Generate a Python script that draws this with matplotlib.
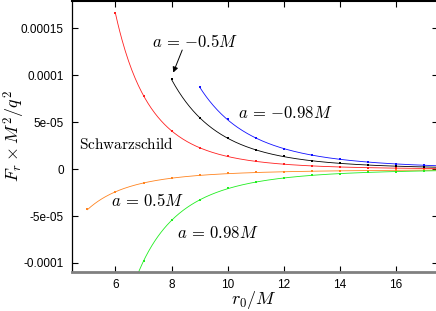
import matplotlib
matplotlib.use("Agg")
import matplotlib.pyplot as plt
import numpy as np

plt.rcParams['mathtext.fontset'] = 'cm'
plt.rcParams['font.family'] = ['Liberation Sans', 'DejaVu Sans']

# values
r_schw = [6, 7, 8, 9, 10, 11, 12, 13, 14, 15, 16, 17]
F_schw = [1.67e-4, 7.8e-5, 4.05e-5, 2.25e-5, 1.38e-5, 8.5e-6, 5.4e-6,
          3.4e-6, 2.3e-6, 1.6e-6, 1.1e-6, 8e-7]
r_m05 = [8, 9, 10, 11, 12, 13, 14, 15, 16, 17]
F_m05 = [9.6e-5, 5.45e-5, 3.3e-5, 2.05e-5, 1.38e-5, 8.8e-6, 6.2e-6,
         4.4e-6, 3.2e-6, 2.4e-6]
r_m098 = [9, 10, 11, 12, 13, 14, 15, 16, 17]
F_m098 = [8.75e-5, 5.3e-5, 3.3e-5, 2.2e-5, 1.5e-5, 1.06e-5, 7.6e-6,
          5.5e-6, 4.2e-6]
r_p05 = [5, 6, 7, 8, 9, 10, 11, 12, 13, 14, 15, 16, 17]
F_p05 = [-4.25e-5, -2.45e-5, -1.5e-5, -9.8e-6, -6.5e-6, -4.5e-6, -3.5e-6,
         -2.8e-6, -2.2e-6, -1.8e-6, -1.5e-6, -1.2e-6, -1.0e-6]
r_p098 = [7, 8, 9, 10, 11, 12, 13, 14, 15, 16, 17]
F_p098 = [-9.8e-5, -5.45e-5, -3.3e-5, -2.05e-5, -1.38e-5, -9.5e-6,
          -6.6e-6, -4.7e-6, -3.4e-6, -2.5e-6, -1.9e-6]

series = [
    (r_schw, F_schw, '#ff2020', 6.0),
    (r_m05, F_m05, 'black', 8.0),
    (r_m098, F_m098, '#1010ff', 9.0),
    (r_p05, F_p05, '#ff8420', 5.0),
    (r_p098, F_p098, '#20ee20', 6.75),
]

fig = plt.figure(figsize=(4.36, 3.11), dpi=100)
ax = fig.add_axes([72 / 436, 1 - 272 / 311, 366 / 436, 271.5 / 311])

for r, F, c, x0 in series:
    r = np.array(r, float)
    F = np.array(F, float)
    sgn = np.sign(F[0])
    # smooth fit line in log-log space
    p = np.polyfit(np.log(r), np.log(np.abs(F)), 3)
    xs = np.linspace(x0, 17.6, 300)
    ax.plot(xs, sgn * np.exp(np.polyval(p, np.log(xs))), color=c, lw=0.6)
    ax.plot(r, F, 's', color=c, ms=1.8, mew=0)

ax.set_xlim(4.45, 17.5)
ax.set_ylim(-1.096e-4, 1.798e-4)
ax.set_xticks([6, 8, 10, 12, 14, 16])
ax.set_yticks([-1e-4, -5e-5, 0, 5e-5, 1e-4, 1.5e-4])
ax.set_yticklabels(['-0.0001', '-5e-05', '0', '5e-05', '0.0001', '0.00015'])
ax.tick_params(direction='in', top=True, right=True, length=4, width=0.8,
               labelsize=8.5)
ax.tick_params(axis='y', pad=6)
ax.tick_params(axis='x', pad=5)
ax.spines['bottom'].set_color('#808080')
ax.spines['bottom'].set_linewidth(2)
ax.spines['right'].set_visible(False)
ax.spines['left'].set_linewidth(0.9)
ax.spines['top'].set_linewidth(1.5)

ax.set_xlabel(r'$r_0/M$', fontsize=13, va='center')
ax.xaxis.set_label_coords((254 - 72) / 366, -28 / 271.5)
ax.set_ylabel(r'$F_r\times M^2/q^2$', fontsize=13, va='center')
ax.yaxis.set_label_coords(-58 / 366, 0.5)

ms = dict(fontsize=12, ha='center', va='center')
ax.text(8.83, 1.36e-4, r'$a\,=\,{-}0.5M$', **ms)
ax.annotate('', xy=(8.06, 1.03e-4), xytext=(8.38, 1.27e-4),
            arrowprops=dict(arrowstyle='-|>', color='black', lw=0.7,
                            mutation_scale=8, shrinkA=0, shrinkB=0))
ax.text(12.04, 5.96e-5, r'$a\,=\,{-}0.98M$', **ms)
ax.text(6.38, 2.66e-5, r'$\mathrm{Schwarzschild}$', fontsize=11,
        ha='center', va='center')
ax.text(7.15, -3.3e-5, r'$a\,=\,0.5M$', **ms)
ax.text(9.65, -6.8e-5, r'$a\,=\,0.98M$', **ms)

fig.savefig('out.png', dpi=100)
